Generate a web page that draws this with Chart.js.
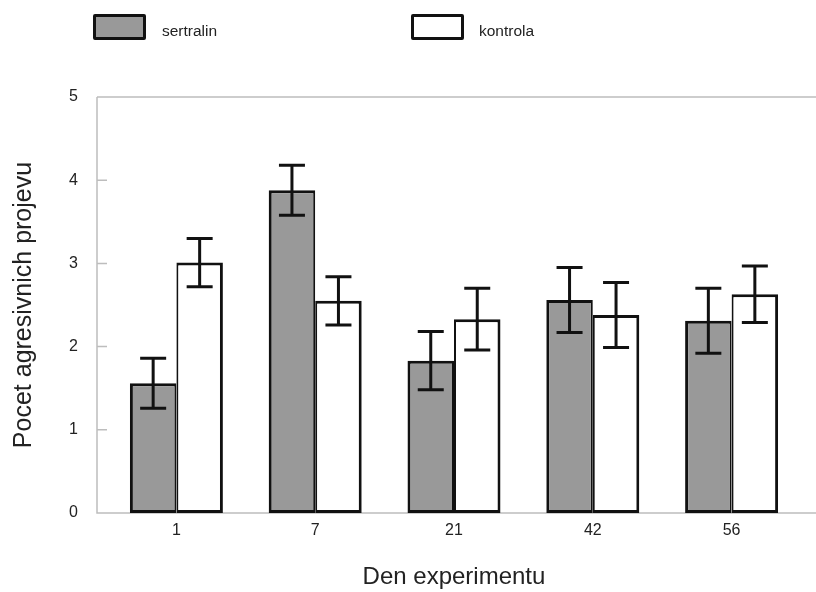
<!DOCTYPE html>
<html>
<head>
<meta charset="utf-8">
<script src="https://cdn.jsdelivr.net/npm/chart.js@4"></script>
<style>
  body { margin: 0; background: #fff; }
  #wrap { position: relative; width: 816px; height: 592px; font-family: "Liberation Sans", Arial, sans-serif; }
  .box { position: absolute; top: 14px; width: 47px; height: 20px; border: 3px solid #111; border-radius: 2px; }
  .lbl { position: absolute; top: 21px; font-size: 15.5px; color: #222; line-height: 20px; }
</style>
</head>
<body>
<div id="wrap">
  <canvas id="chart" width="816" height="592"></canvas>
  <div class="box" style="left:93px;background:#999999"></div>
  <div class="lbl" style="left:162px">sertralin</div>
  <div class="box" style="left:411px;background:#ffffff"></div>
  <div class="lbl" style="left:479px">kontrola</div>
</div>
<script>
const days = ['1', '7', '21', '42', '56'];
const sertralin = [1.56, 3.88, 1.83, 2.56, 2.31];
const sertralinErr = [0.30, 0.30, 0.35, 0.39, 0.39];
const kontrola = [3.01, 2.55, 2.33, 2.38, 2.63];
const kontrolaErr = [0.29, 0.29, 0.37, 0.39, 0.34];
const yTicks = [0, 1, 2, 3, 4, 5];

const errors = [sertralinErr, kontrolaErr];
const axisGray = '#bdbdbd';
const fontFam = '"Liberation Sans", Arial, sans-serif';

// frame: left axis, top and bottom lines, inward tick marks
const framePlugin = {
    id: 'frame',
    beforeDatasetsDraw(chart) {
        const { ctx, chartArea } = chart;
        const y = chart.scales.y;
        const x0 = chartArea.left - 10;
        ctx.save();
        ctx.strokeStyle = axisGray;
        ctx.lineWidth = 1.5;
        ctx.beginPath();
        ctx.moveTo(x0, chartArea.top);
        ctx.lineTo(816, chartArea.top);
        ctx.moveTo(x0, chartArea.top);
        ctx.lineTo(x0, chartArea.bottom);
        ctx.lineTo(816, chartArea.bottom);
        yTicks.forEach(v => {
            const py = y.getPixelForValue(v);
            ctx.moveTo(x0, py);
            ctx.lineTo(chartArea.left, py);
        });
        ctx.stroke();
        ctx.restore();
    }
};

const errorBarPlugin = {
    id: 'errorBars',
    afterDatasetsDraw(chart) {
        const { ctx } = chart;
        const y = chart.scales.y;
        ctx.save();
        ctx.strokeStyle = '#111';
        ctx.lineWidth = 3;
        chart.data.datasets.forEach((ds, i) => {
            chart.getDatasetMeta(i).data.forEach((bar, j) => {
                const v = ds.data[j], e = errors[i][j];
                const top = y.getPixelForValue(v + e);
                const bot = y.getPixelForValue(v - e);
                ctx.beginPath();
                ctx.moveTo(bar.x, top);
                ctx.lineTo(bar.x, bot);
                ctx.moveTo(bar.x - 13, top);
                ctx.lineTo(bar.x + 13, top);
                ctx.moveTo(bar.x - 13, bot);
                ctx.lineTo(bar.x + 13, bot);
                ctx.stroke();
            });
        });
        ctx.restore();
    }
};

new Chart(document.getElementById('chart'), {
    type: 'bar',
    data: {
        labels: days,
        datasets: [
            { label: 'sertralin', data: sertralin, backgroundColor: '#999999', borderColor: '#111',
              borderWidth: { top: 3, left: 3, bottom: 3, right: 2 }, borderSkipped: false },
            { label: 'kontrola', data: kontrola, backgroundColor: '#ffffff', borderColor: '#111',
              borderWidth: { top: 3, left: 2, bottom: 3, right: 3 }, borderSkipped: false }
        ]
    },
    options: {
        responsive: false,
        animation: false,
        layout: { padding: { top: 97, right: 15, left: 0, bottom: 0 } },
        datasets: { bar: { categoryPercentage: 0.67, barPercentage: 1 } },
        plugins: { legend: { display: false }, tooltip: { enabled: false } },
        scales: {
            x: {
                grid: { display: false, drawTicks: false },
                border: { display: false },
                ticks: { padding: 8, color: '#222', font: { size: 16, family: fontFam } },
                title: { display: true, text: 'Den experimentu', color: '#222', padding: { top: 0, bottom: 0 }, font: { size: 24, family: fontFam } },
                afterFit(s) { s.height = 79; }
            },
            y: {
                min: 0,
                max: 5,
                grid: { display: false, drawTicks: false },
                border: { display: false },
                afterBuildTicks(s) { s.ticks = yTicks.map(v => ({ value: v })); },
                ticks: { padding: 29, color: '#222', font: { size: 16, family: fontFam } },
                title: { display: true, text: 'Pocet agresivnich projevu', color: '#222', padding: { top: 9, bottom: 0 }, font: { size: 25, family: fontFam } },
                afterFit(s) { s.width = 107; }
            }
        }
    },
    plugins: [framePlugin, errorBarPlugin]
});
</script>
</body>
</html>
